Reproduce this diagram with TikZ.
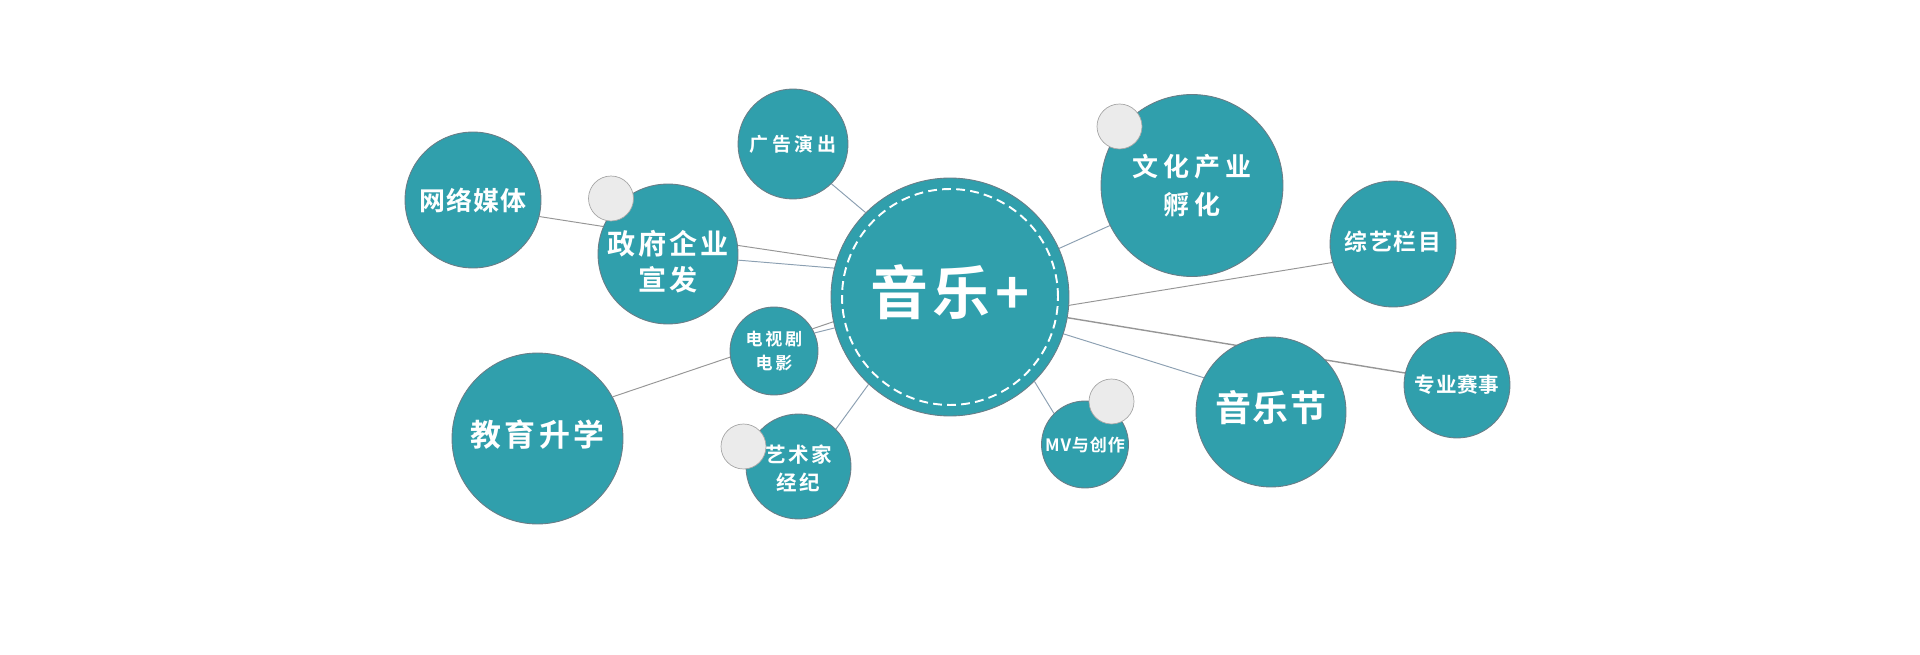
\documentclass[tikz,border=0pt]{standalone}
\usepackage{fontspec}
\newfontfamily\cjk{Noto Sans CJK SC}[BoldFont={Noto Sans CJK SC Bold}]
\usetikzlibrary{backgrounds}

\definecolor{tealfill}{RGB}{48,159,172}
\definecolor{rimline}{RGB}{105,125,135}
\definecolor{knobfill}{RGB}{235,235,235}
\definecolor{linkgray}{RGB}{150,150,150}
\definecolor{linkblue}{RGB}{140,160,178}

\tikzset{
  bub/.style={circle, fill=tealfill, draw=rimline, line width=0.5pt, inner sep=0pt},
  bubtext/.style n args={3}{text=white, align=center, inner sep=0pt,
    font=\cjk\bfseries\fontsize{#1}{#2}\selectfont\addfontfeature{LetterSpace=#3}},
  knob/.style={circle, fill=knobfill, draw=gray!70, line width=0.4pt, inner sep=0pt, minimum size=0.9cm},
  link/.style={draw=linkgray, line width=0.55pt},
  linkb/.style={draw=linkblue, line width=0.55pt},
}

\begin{document}
\begin{tikzpicture}[x=0.02cm, y=-0.02cm]
\useasboundingbox (0,0) rectangle (1920,655);

% hub
\node[bub, minimum size=4.76cm] (hub) at (950,297) {};
\draw[white, line width=1.1pt, dash pattern=on 5pt off 3pt] (hub.center) circle (2.16cm);
\node[bubtext={33}{36}{8}, yshift=2.8pt] (hub-txt) at (hub) {音乐+};

% left side
\node[bub, bubtext={14.8}{18}{3}, minimum size=2.72cm] (wangluo) at (473,200) {网络媒体};
\node[bub, minimum size=2.8cm] (zhengfu) at (668,254) {};
\node[bubtext={16}{20.5}{10}, yshift=-4.5pt] (zhengfu-txt) at (zhengfu) {政府企业\\宣发};
\node[bub, bubtext={10.8}{13}{18}, minimum size=2.2cm] (guanggao) at (793,144) {广告演出};
\node[bub, bubtext={9.7}{13.5}{16}, minimum size=1.76cm] (dianshi) at (774,351) {电视剧\\电影};
\node[bub, minimum size=3.42cm] (jiaoyu) at (537.5,438.5) {};
\node[bubtext={17.6}{20}{12}, yshift=2.3pt] (jiaoyu-txt) at (jiaoyu) {教育升学};
\node[bub, minimum size=2.1cm] (yishu) at (798.5,466.5) {};
\node[bubtext={11.7}{16}{12}, yshift=-0.8pt] (yishu-txt) at (yishu) {艺术家\\经纪};

% right side
\node[bub, bubtext={14.8}{21.6}{20}, minimum size=3.64cm] (wenhua) at (1192,185.5) {文化产业\\孵化};
\node[bub, minimum size=2.52cm] (zongyi) at (1393,244) {};
\node[bubtext={13}{16}{7}, yshift=1.4pt] (zongyi-txt) at (zongyi) {综艺栏目};
\node[bub, bubtext={9.7}{12}{5}, minimum size=1.74cm] (mv) at (1085,444.5) {MV与创作};
\node[bub, minimum size=3cm] (yinyuejie) at (1271,412) {};
\node[bubtext={20.5}{24}{4}, yshift=2.3pt] (yinyuejie-txt) at (yinyuejie) {音乐节};
\node[bub, bubtext={11.7}{14}{3}, minimum size=2.12cm] (zhuanye) at (1457,385) {专业赛事};

% grey knobs
\node[knob] (knobA) at (611,198.5) {};
\node[knob] (knobB) at (1119.5,126.5) {};
\node[knob] (knobC) at (743.5,446.5) {};
\node[knob] (knobD) at (1111.5,401.5) {};

% connectors
\begin{scope}[on background layer]
\draw[link] (wangluo.-14) -- (zhengfu.157);
\draw[link] (zhengfu.7) -- (hub.162);
\draw[linkb] (zhengfu.-5) -- (hub.166);
\draw[linkb] (guanggao.-46) -- (hub.135);
\draw[linkb] (hub.24) -- (wenhua.-154);
\draw[link] (hub.-4) -- (zongyi.-163);
\draw[link, line width=0.8pt] (hub.-10) -- (zhuanye.167);
\draw[linkb] (hub.-18) -- (yinyuejie.153);
\draw[linkb] (hub.-45) -- (mv.135);
\draw[linkb] (yishu.45) -- (hub.-133);
\draw[link] (dianshi.30) -- (hub.-168);
\draw[linkb] (dianshi.24) -- (hub.-165);
\draw[link] (jiaoyu.29) -- (dianshi.-172);
\end{scope}
\end{tikzpicture}
\end{document}
